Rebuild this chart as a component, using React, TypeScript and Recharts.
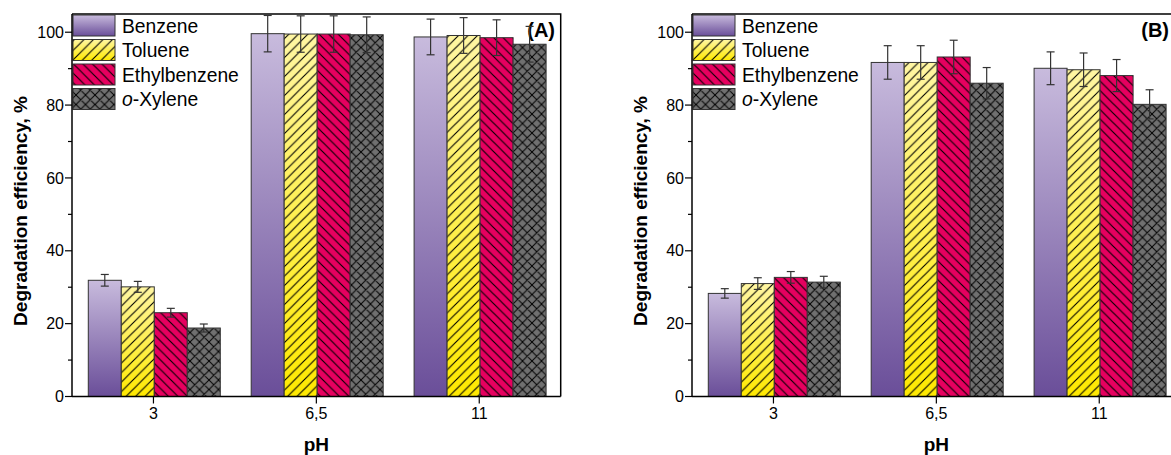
import { BarChart, Bar, XAxis, YAxis, ErrorBar } from "recharts"

const FONT = "'Liberation Sans', Arial, Helvetica, sans-serif"

const phLabels = ["3", "6,5", "11"]
const yTicks = [0, 10, 20, 30, 40, 50, 60, 70, 80, 90, 100]

// (A)
const benzeneA = [31.9, 99.6, 98.7]
const benzeneErrA = [1.6, 5.0, 4.9]
const tolueneA = [30.1, 99.5, 99.1]
const tolueneErrA = [1.5, 5.0, 4.9]
const ethylA = [23.0, 99.5, 98.5]
const ethylErrA = [1.2, 5.0, 4.9]
const xyleneA = [18.8, 99.3, 96.7]
const xyleneErrA = [1.1, 4.9, 4.9]

// (B)
const benzeneB = [28.3, 91.7, 90.1]
const benzeneErrB = [1.3, 4.6, 4.5]
const tolueneB = [31.0, 91.7, 89.7]
const tolueneErrB = [1.6, 4.6, 4.6]
const ethylB = [32.7, 93.2, 88.1]
const ethylErrB = [1.6, 4.6, 4.4]
const xyleneB = [31.4, 86.0, 80.2]
const xyleneErrB = [1.6, 4.3, 4.0]

const buildRows = (b: number[], be: number[], t: number[], te: number[], e: number[], ee: number[], x: number[], xe: number[]) =>
  phLabels.map((ph, i) => ({
    ph,
    benzene: b[i], benzeneErr: be[i],
    toluene: t[i], tolueneErr: te[i],
    ethyl: e[i], ethylErr: ee[i],
    xylene: x[i], xyleneErr: xe[i],
  }))

const rowsA = buildRows(benzeneA, benzeneErrA, tolueneA, tolueneErrA, ethylA, ethylErrA, xyleneA, xyleneErrA)
const rowsB = buildRows(benzeneB, benzeneErrB, tolueneB, tolueneErrB, ethylB, ethylErrB, xyleneB, xyleneErrB)

type SeriesStyle = { key: string; name: string; base: string | null; grad: string | null; hatch: string | null }

const series: SeriesStyle[] = [
  { key: "benzene", name: "Benzene", base: null, grad: "benz", hatch: null },
  { key: "toluene", name: "Toluene", base: null, grad: "tol", hatch: "fwd" },
  { key: "ethyl", name: "Ethylbenzene", base: "#e6005f", grad: null, hatch: "back" },
  { key: "xylene", name: "o-Xylene", base: "#707070", grad: null, hatch: "cross" },
]

// plot area inside each 580x455 chart
const PLOT = { left: 72, top: 14, right: 560.7, bottom: 396.5 }

function drawBox(s: SeriesStyle, tag: string, x: number, y: number, w: number, h: number) {
  const fill = s.grad ? `url(#${s.grad}-${tag})` : (s.base as string)
  return (
    <g>
      <rect x={x} y={y} width={w} height={h} fill={fill} />
      {s.hatch && <rect x={x} y={y} width={w} height={h} fill={`url(#${s.hatch}-${tag})`} />}
      <rect x={x} y={y} width={w} height={h} fill="none" stroke="#333" strokeWidth={1} />
    </g>
  )
}

const makeShape = (s: SeriesStyle, tag: string) => (props: any) => {
  const { x, y, width, height } = props
  if (!height || height <= 0) return <g />
  return drawBox(s, tag, x, y, width, height)
}

const YTick = (props: any) => {
  const { x, y, payload } = props
  const major = payload.value % 20 === 0
  return (
    <g>
      <line x1={x + (major ? 2 : 5)} x2={x + 9} y1={y} y2={y} stroke="#000" strokeWidth={1.2} />
      {major && (
        <text x={x + 1} y={y} dy="0.355em" textAnchor="end" fontSize={16} fontFamily={FONT} fill="#000">
          {payload.value}
        </text>
      )}
    </g>
  )
}

const axisLine = { stroke: "#000", strokeWidth: 1.5 }

function Panel({ tag, label, labelEnd, rows, left }: { tag: string; label: string; labelEnd: number; rows: any[]; left: number }) {
  return (
    <div style={{ position: "absolute", left, top: 0 }}>
      <BarChart
        width={580}
        height={455}
        data={rows}
        margin={{ top: PLOT.top, right: 580 - PLOT.right, bottom: 0, left: 0 }}
        barCategoryGap="10%"
        barGap={0}
      >
        <defs>
          <linearGradient id={`benz-${tag}`} x1="0" y1="0" x2="0" y2="1">
            <stop offset="0" stopColor="#c8bbdd" />
            <stop offset="1" stopColor="#6a4e99" />
          </linearGradient>
          <linearGradient id={`tol-${tag}`} x1="0" y1="0" x2="0" y2="1">
            <stop offset="0" stopColor="#fff6a3" />
            <stop offset="1" stopColor="#ffe900" />
          </linearGradient>
          <pattern id={`fwd-${tag}`} patternUnits="userSpaceOnUse" width={9.5} height={9.5}>
            <path d="M-1,1 L1,-1 M0,9.5 L9.5,0 M8.5,10.5 L10.5,8.5" stroke="#000" strokeWidth={1.1} />
          </pattern>
          <pattern id={`back-${tag}`} patternUnits="userSpaceOnUse" width={9.5} height={9.5}>
            <path d="M-1,8.5 L1,10.5 M0,0 L9.5,9.5 M8.5,-1 L10.5,1" stroke="#000" strokeWidth={1.1} />
          </pattern>
          <pattern id={`cross-${tag}`} patternUnits="userSpaceOnUse" width={9.5} height={9.5}>
            <path
              d="M-1,1 L1,-1 M0,9.5 L9.5,0 M8.5,10.5 L10.5,8.5 M-1,8.5 L1,10.5 M0,0 L9.5,9.5 M8.5,-1 L10.5,1"
              stroke="#000"
              strokeWidth={1}
            />
          </pattern>
        </defs>

        <XAxis
          dataKey="ph"
          height={455 - PLOT.bottom}
          tickSize={7}
          tickMargin={4}
          axisLine={axisLine}
          tickLine={{ stroke: "#000", strokeWidth: 1.2 }}
          tick={{ fontSize: 16, fill: "#000", fontFamily: FONT }}
        />
        <YAxis
          width={PLOT.left}
          domain={[0, 105]}
          ticks={yTicks}
          allowDataOverflow
          tickSize={7}
          tickMargin={2}
          tickLine={false}
          axisLine={axisLine}
          tick={<YTick />}
        />

        {series.map((s) => (
          <Bar key={s.key} dataKey={s.key} name={s.name} isAnimationActive={false} shape={makeShape(s, tag)}>
            <ErrorBar dataKey={`${s.key}Err`} width={4} stroke="#333" strokeWidth={1.2} />
          </Bar>
        ))}

        {/* top and right sides of the frame */}
        <path
          d={`M${PLOT.left},${PLOT.top} L${PLOT.right},${PLOT.top} L${PLOT.right},${PLOT.bottom}`}
          fill="none"
          stroke="#000"
          strokeWidth={1.5}
        />

        <text
          transform="translate(27,211) rotate(-90)"
          textAnchor="middle"
          fontSize={19}
          fontWeight="bold"
          fontFamily={FONT}
          fill="#000"
        >
          Degradation efficiency, %
        </text>
        <text x={(PLOT.left + PLOT.right) / 2} y={451} textAnchor="middle" fontSize={19} fontWeight="bold" fontFamily={FONT} fill="#000">
          pH
        </text>
        <text x={labelEnd} y={37} textAnchor="end" fontSize={20} fontWeight="bold" fontFamily={FONT} fill="#000">
          {label}
        </text>

        {/* legend */}
        {series.map((s, i) => (
          <g key={`lg-${s.key}`}>
            {drawBox(s, tag, 73, 15 + i * 24.5, 42, 21)}
            <text x={122} y={32.5 + i * 24.5} fontSize={19.3} fontFamily={FONT} fill="#000">
              {s.key === "xylene" ? (
                <>
                  <tspan fontStyle="italic">o</tspan>-Xylene
                </>
              ) : (
                s.name
              )}
            </text>
          </g>
        ))}
      </BarChart>
    </div>
  )
}

export default function App() {
  return (
    <div
      style={{
        position: "fixed",
        left: 0,
        top: 0,
        width: 1171,
        height: 455,
        overflow: "hidden",
        background: "#fff",
      }}
    >
      <Panel tag="a" label="(A)" labelEnd={555} rows={rowsA} left={0} />
      <Panel tag="b" label="(B)" labelEnd={549} rows={rowsB} left={620} />
    </div>
  )
}
